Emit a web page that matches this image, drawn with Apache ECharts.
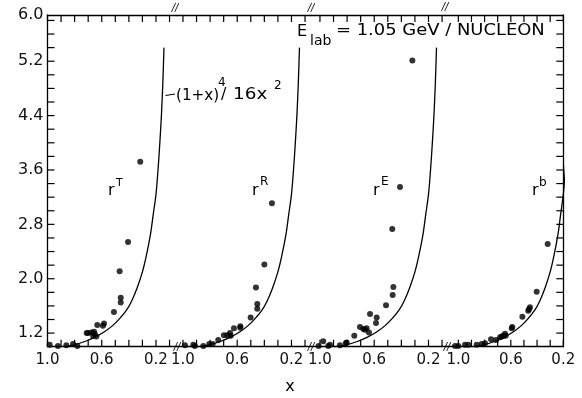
<!DOCTYPE html>
<html>
<head>
<meta charset="utf-8">
<script src="https://cdn.jsdelivr.net/npm/echarts@6/dist/echarts.min.js"></script>
<style>
  html, body { margin: 0; padding: 0; background: #fff; }
  #chart { width: 582px; height: 398px; }
</style>
</head>
<body>
<div id="chart"></div>
<script>
// theory curve (1+x)^4/16x^2
const curveX = [1.0, 0.9, 0.8, 0.72, 0.65, 0.58, 0.52, 0.47, 0.42, 0.38, 0.34, 0.30, 0.27, 0.24, 0.22, 0.2, 0.185, 0.17, 0.16, 0.15, 0.141];
const curveY = [1.0, 1.0, 1.03, 1.08, 1.14, 1.22, 1.31, 1.41, 1.53, 1.67, 1.86, 2.1, 2.35, 2.66, 2.95, 3.24, 3.6, 4.05, 4.4, 4.85, 5.40];

// measured ratios per panel
const rTX = [0.316, 0.406, 0.468, 0.460, 0.460, 0.510, 0.583, 0.591, 0.633, 0.701, 0.677, 0.657, 0.652, 0.640, 0.664, 0.711, 0.984, 0.923, 0.861, 0.812, 0.780];
const rTY = [3.72, 2.54, 2.11, 1.72, 1.65, 1.51, 1.34, 1.31, 1.32, 1.20, 1.21, 1.22, 1.19, 1.15, 1.16, 1.20, 1.03, 1.01, 1.02, 1.04, 1.01];

const rRX = [0.344, 0.400, 0.462, 0.452, 0.452, 0.501, 0.577, 0.577, 0.624, 0.653, 0.648, 0.673, 0.698, 0.740, 0.781, 0.806, 0.850, 0.912, 0.924, 0.985];
const rRY = [3.11, 2.21, 1.87, 1.63, 1.56, 1.43, 1.30, 1.28, 1.27, 1.20, 1.16, 1.17, 1.17, 1.10, 1.04, 1.04, 1.01, 1.01, 1.03, 1.02];

const rEX = [0.319, 0.410, 0.467, 0.459, 0.464, 0.513, 0.582, 0.587, 0.631, 0.656, 0.668, 0.680, 0.639, 0.705, 0.747, 0.803, 0.810, 0.853, 0.926, 0.939, 0.976, 1.01];
const rEY = [5.21, 3.35, 2.73, 1.88, 1.76, 1.61, 1.43, 1.35, 1.48, 1.27, 1.25, 1.26, 1.21, 1.29, 1.16, 1.06, 1.05, 1.02, 1.03, 1.01, 1.08, 1.01];

const rbX = [0.319, 0.403, 0.454, 0.461, 0.467, 0.512, 0.589, 0.593, 0.644, 0.657, 0.669, 0.682, 0.639, 0.713, 0.751, 0.797, 0.822, 0.860, 0.924, 0.949, 1.0, 1.025];
const rbY = [2.51, 1.81, 1.58, 1.55, 1.53, 1.44, 1.29, 1.27, 1.19, 1.16, 1.15, 1.14, 1.16, 1.10, 1.11, 1.05, 1.04, 1.03, 1.03, 1.03, 1.01, 1.01];

// ticks and tick labels
const xTicks = [1.0, 0.9, 0.8, 0.7, 0.6, 0.5, 0.4, 0.3, 0.2, 0.1];
const xLabels = [1.0, 0.6, 0.2];
const yTicks = [1.2, 1.4, 1.6, 1.8, 2.0, 2.2, 2.4, 2.6, 2.8, 3.0, 3.2, 3.4, 3.6, 3.8, 4.0, 4.2, 4.4, 4.6, 4.8, 5.0, 5.2, 5.4, 5.6, 5.8];
const yLabelAt = [1.2, 2.0, 2.8, 3.6, 4.4, 5.2, 5.88]; // top label sits on the frame
const yLabelText = ['1.2', '2.0', '2.8', '3.6', '4.4', '5.2', '6.0'];

const panels = [[rTX, rTY], [rRX, rRY], [rEX, rEY], [rbX, rbY]];

// layout of the four broken-axis panels (x runs from high to low)
const FONT = 'DejaVu Sans';
const TOP = 15, BOTTOM = 51.3, YMIN = 1.0, YMAX = 5.88, TICK = 7;
const pLeft = [47.5, 177, 311, 446];
const pRight = [177, 311, 446, 563.3];
const pXMax = [1.0, 1.044, 1.066, 1.094];
const pXMin = [0.045, 0.056, 0.071, 0.2];

const zip = (xs, ys) => xs.map((x, i) => [x, ys[i]]);
const axLine = { show: true, lineStyle: { color: '#000', width: 1.3 } };

// inward tick marks drawn through the axis scales
function xTickItem(params, api) {
  const b = api.coord([api.value(0), YMIN]);
  const t = api.coord([api.value(0), YMAX]);
  return { type: 'group', children: [
    { type: 'line', shape: { x1: b[0], y1: b[1], x2: b[0], y2: b[1] - TICK }, style: { stroke: '#000', lineWidth: 1.2 } },
    { type: 'line', shape: { x1: t[0], y1: t[1], x2: t[0], y2: t[1] + TICK }, style: { stroke: '#000', lineWidth: 1.2 } }
  ] };
}
const yTickItem = dir => (params, api) => {
  const p = api.coord([api.value(0), api.value(1)]);
  return { type: 'line', shape: { x1: p[0], y1: p[1], x2: p[0] + dir * TICK, y2: p[1] }, style: { stroke: '#000', lineWidth: 1.2 } };
};

const grid = [], xAxis = [], yAxis = [], series = [];
for (let i = 0; i < 4; i++) {
  grid.push({ left: pLeft[i], width: pRight[i] - pLeft[i], top: TOP, bottom: BOTTOM, containLabel: false });
  xAxis.push({
    type: 'value', gridIndex: i, inverse: true, min: pXMin[i], max: pXMax[i],
    position: 'bottom', axisLine: axLine, splitLine: { show: false }, axisTick: { show: false },
    axisLabel: { customValues: xLabels, formatter: v => v.toFixed(1), fontSize: 15, fontFamily: FONT,
                 color: '#111', margin: 6 }
  });
  xAxis.push({
    type: 'value', gridIndex: i, inverse: true, min: pXMin[i], max: pXMax[i],
    position: 'top', axisLine: axLine, splitLine: { show: false }, axisLabel: { show: false },
    axisTick: { show: false }
  });
  const y = { type: 'value', gridIndex: i, min: YMIN, max: YMAX, splitLine: { show: false }, axisTick: { show: false } };
  if (i === 0) {
    Object.assign(y, {
      position: 'left', axisLine: axLine,
      axisLabel: { customValues: yLabelAt, formatter: v => yLabelText[yLabelAt.indexOf(v)],
                   fontSize: 16, fontFamily: FONT, color: '#111', margin: 4 }
    });
  } else if (i === 3) {
    Object.assign(y, { position: 'right', axisLine: axLine, axisLabel: { show: false } });
  } else {
    y.show = false;
  }
  yAxis.push(y);

  series.push({
    type: 'custom', xAxisIndex: 2 * i, yAxisIndex: i, clip: false,
    data: xTicks.filter(v => v >= pXMin[i] && v <= pXMax[i]).map(v => [v, YMIN]),
    renderItem: xTickItem
  });
  if (i === 0) {
    series.push({ type: 'custom', xAxisIndex: 0, yAxisIndex: 0, clip: false,
                  data: yTicks.map(v => [pXMax[0], v]), renderItem: yTickItem(1) });
  }
  if (i === 3) {
    series.push({ type: 'custom', xAxisIndex: 6, yAxisIndex: 3, clip: false,
                  data: yTicks.map(v => [pXMin[3], v]), renderItem: yTickItem(-1) });
  }
  series.push({
    type: 'line', xAxisIndex: 2 * i, yAxisIndex: i, data: zip(curveX, curveY),
    smooth: 0.3, showSymbol: false, lineStyle: { color: '#000', width: 1.3 }, silent: true
  });
  series.push({
    type: 'scatter', xAxisIndex: 2 * i, yAxisIndex: i, data: zip(panels[i][0], panels[i][1]),
    symbolSize: 6, itemStyle: { color: '#000' }, clip: false, silent: true
  });
}

const txt = (x, y, text, size, extra, align) => Object.assign({
  type: 'text', x, y, silent: true,
  style: { text, fill: '#000', font: size + 'px ' + FONT, align: align || 'left', verticalAlign: 'middle' }
}, extra || {});
const brk = (x, y) => ({
  type: 'text', x, y, silent: true,
  style: { text: '//', fill: '#000', font: 'italic 10px ' + FONT, align: 'center', verticalAlign: 'middle' }
});

const graphic = [
  // E_lab = 1.05 GeV / NUCLEON
  txt(297, 31.5, 'E', 16),
  txt(310, 41, 'lab', 14),
  txt(336, 31, '= 1.05 GeV / NUCLEON', 16, { scaleX: 1.12 }),
  // formula label with leader
  { type: 'line', silent: true, shape: { x1: 165.5, y1: 95.5, x2: 175, y2: 94 }, style: { stroke: '#000', lineWidth: 1 } },
  txt(176, 96, '(1+x)', 16, { scaleX: 0.95 }),
  txt(218, 83, '4', 12),
  txt(221, 95, '/', 16),
  txt(233, 95, '16x', 16, { scaleX: 1.15 }),
  txt(274, 86, '2', 12),
  // panel names
  txt(108, 191, 'r', 16), txt(116, 183, 'T', 11),
  txt(252, 191, 'r', 16), txt(260, 182, 'R', 12),
  txt(373, 191, 'r', 16), txt(381, 182, 'E', 12),
  txt(532, 191, 'r', 16), txt(539, 183, 'b', 12),
  // axis name
  txt(290, 387, 'x', 16, null, 'center'),
  // axis break marks
  brk(175, 8), brk(311, 8), brk(445, 7),
  brk(177, 347), brk(311, 347), brk(447, 347)
];

const chart = echarts.init(document.getElementById('chart'), null, { renderer: 'canvas' });
chart.setOption({
  animation: false,
  backgroundColor: '#fff',
  grid, xAxis, yAxis, series, graphic
});
</script>
</body>
</html>
